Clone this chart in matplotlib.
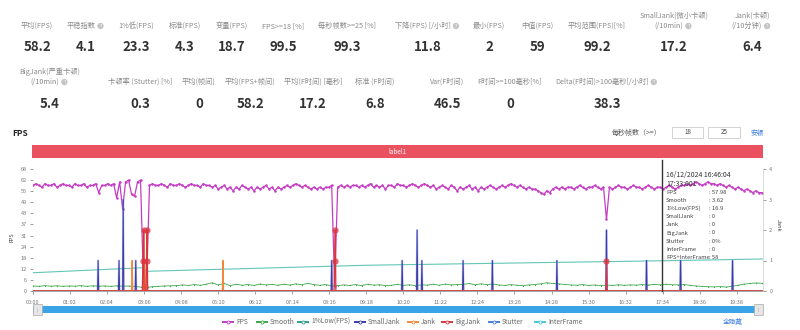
import numpy as np
import matplotlib.pyplot as plt
from matplotlib.patches import Rectangle
from matplotlib.lines import Line2D

plt.rcParams['font.family'] = ['Noto Sans CJK SC', 'DejaVu Sans']

# ---- summary numbers ----
row1_labels = ['平均(FPS)', '平稳指数', '1%低(FPS)', '标准(FPS)', '变量(FPS)', 'FPS>=18 [%]',
               '每秒帧数>=25 [%]', '下降(FPS) [/小时]', '最小(FPS)', '中值(FPS)', '平均范围(FPS)[%]',
               'SmallJank(微小卡顿)\n(/10min)', 'Jank(卡顿)\n(/10分钟)']
row1_values = ['58.2', '4.1', '23.3', '4.3', '18.7', '99.5', '99.3', '11.8', '2', '59', '99.2', '17.2', '6.4']
row2_labels = ['BigJank(严重卡顿)\n(/10min)', '卡顿率 (Stutter) [%]', '平均(帧间)', '平均(FPS+帧间)',
               '平均(F时间) [毫秒]', '标准 (F时间)', 'Var(F时间)', 'F时间>=100毫秒[%]',
               'Delta(F时间)>100毫秒[/小时]']
row2_values = ['5.4', '0.3', '0', '58.2', '17.2', '6.8', '46.5', '0', '38.3']

# ---- FPS, one value every 5 s (one row per minute) ----
fps = [
    59, 60, 59, 58, 60, 59, 59, 60, 58, 59, 60, 59,
    59, 58, 60, 59, 59, 60, 58, 59, 59, 60, 55, 59,
    59, 60, 59, 60, 52, 61, 46, 61, 62, 54, 53, 61,
    62, 4, 2, 59, 60, 59, 59, 60, 59, 58, 60, 59,
    59, 60, 59, 58, 59, 60, 59, 59, 58, 60, 59, 59,
    58, 59, 57, 58, 59, 57, 58, 56, 58, 57, 59, 58,
    57, 58, 56, 58, 57, 58, 59, 57, 58, 56, 58, 57,
    58, 59, 58, 59, 60, 59, 58, 59, 58, 57, 58, 57,
    58, 57, 58, 58, 59, 3, 58, 59, 58, 59, 58, 59,
    59, 58, 59, 58, 59, 60, 58, 59, 58, 59, 57, 59,
    59, 58, 60, 59, 59, 58, 59, 60, 59, 58, 59, 60,
    59, 58, 59, 57, 58, 59, 58, 57, 59, 58, 56, 58,
    57, 58, 59, 57, 58, 56, 58, 57, 58, 59, 58, 57,
    58, 59, 58, 59, 60, 59, 58, 59, 58, 57, 58, 57,
    57, 56, 55, 54, 56, 55, 57, 58, 57, 58, 57, 58,
    58, 57, 58, 59, 58, 57, 58, 58, 59, 58, 57, 58,
    40, 58, 57, 58, 59, 58, 58, 57, 58, 59, 58, 58,
    57, 58, 59, 58, 57, 58, 58, 57, 58, 59, 58, 57,
    58, 59, 59, 60, 59, 60, 61, 60, 59, 60, 61, 60,
    60, 59, 60, 59, 58, 59, 58, 57, 58, 57, 56, 57,
    56, 55, 56, 55, 55,
]

# ---- Smooth, one value every 10 s ----
smooth = [
    2.8, 2.6, 3.0, 2.7, 2.9, 2.6,
    2.8, 2.7, 3.0, 2.6, 2.9, 2.7,
    2.8, 2.6, 2.9, 2.7, 2.8, 2.6,
    2.2, 2.0, 2.4, 2.6, 2.8, 2.9,
    3.0, 3.4, 3.1, 3.6, 3.2, 3.8,
    4.6, 3.4, 4.2, 3.0, 3.8, 3.2,
    3.6, 3.1, 3.9, 3.4, 3.7, 3.2,
    3.8, 3.3, 4.0, 3.5, 4.3, 3.6,
    3.2, 3.6, 2.8, 3.0, 3.4, 3.1,
    3.6, 3.0, 3.8, 3.3, 3.5, 3.0,
    3.2, 3.7, 3.1, 3.5, 3.0, 3.4,
    3.3, 3.8, 3.2, 3.9, 3.4, 3.6,
    3.7, 4.2, 3.5, 4.0, 3.6, 3.9,
    3.4, 3.1, 3.6, 3.2, 3.0, 3.4,
    3.6, 4.0, 4.6, 4.2, 4.0, 3.7,
    3.4, 3.2, 3.6, 3.1, 3.4, 3.0,
    3.3, 3.1, 3.5, 3.2, 3.4, 3.3,
    3.6, 3.3, 3.7, 3.4, 3.8, 3.5,
    3.4, 3.6, 3.2, 2.8, 2.6, 2.4,
    2.3, 2.5, 2.2, 2.6, 3.2, 3.8,
    4.2, 4.5, 4.3,
]

# ---- 1%Low(FPS) ----
low_t = [0, 183, 190, 560, 1053, 1222]
low_v = [10.2, 13.0, 11.0, 14.4, 16.9, 17.9]

# ---- jank events (seconds, count) ----
smalljank_t = [109, 144, 151, 172, 500, 618, 643, 651, 720, 769, 877, 960, 1027, 1084, 1171]
smalljank_v = [1, 1, 3, 1, 1, 1, 2, 1, 1, 1, 1, 2, 1, 1, 1]
jank_t = [166, 186, 190, 318]
jank_v = [1, 2, 1, 1]
bigjank_t = [184, 185, 190, 191, 505, 506, 960]
bigjank_v = [1, 2, 1, 2, 1, 2, 1]

tooltip_names = ['FPS', 'Smooth', '1%Low(FPS)', 'SmallJank', 'Jank', 'BigJank', 'Stutter', 'InterFrame', 'FPS+InterFrame']
tooltip_vals = [': 57.98', ': 3.62', ': 16.9', ': 0', ': 0', ': 0', ': 0%', ': 0', ': 58']

legend_names = ['FPS', 'Smooth', '1%Low(FPS)', 'SmallJank', 'Jank', 'BigJank', 'Stutter', 'InterFrame']
legend_colors = ['#c43cc4', '#3da84a', '#2f9e8f', '#3b3ba6', '#f0883a', '#d93440', '#4c7fd8', '#44c8d4']

XMAX = 1222
CURSOR = 1053

W, H = 800, 330
fig = plt.figure(figsize=(8, 3.3), dpi=100)


def fx(px):
    return px / W


def fy(py):
    return 1 - py / H


def spike_series(times, vals):
    xs, ys = [0], [0]
    for i, (t, v) in enumerate(zip(times, vals)):
        if i == 0 or times[i - 1] != t - 1:
            xs.append(t - 1); ys.append(0)
        xs.append(t); ys.append(v)
        if i == len(times) - 1 or times[i + 1] != t + 1:
            xs.append(t + 1); ys.append(0)
    xs.append(XMAX); ys.append(0)
    return xs, ys


def stat_label(x, y, text, help_icon=False):
    lines = text.split('\n')
    if len(lines) == 2:
        fig.text(fx(x), fy(y - 10), lines[0], ha='center', va='center', fontsize=5.2, color='#8a8a8a')
    last = lines[-1]
    shift = -5 if help_icon else 0
    t = fig.text(fx(x + shift), fy(y), last, ha='center', va='center', fontsize=5.2, color='#8a8a8a')
    if help_icon:
        fig.canvas.draw()
        bb = t.get_window_extent()
        fig.text(bb.x1 / fig.dpi / fig.get_figwidth() + fx(5), fy(y), '?', ha='center', va='center',
                 fontsize=3.2, color='white', bbox=dict(boxstyle='circle,pad=0.15', fc='#c4c4c4', ec='none'))


# ---- stats rows ----
row1_x = [37, 86, 136, 185, 232, 283, 347, 428, 489, 537, 597, 674, 752]
row2_x = [50, 140, 199, 250, 313, 375, 447, 510, 607]
row1_help = [1, 7, 11, 12]
row2_help = [0, 8]
for i, (lab, val, x) in enumerate(zip(row1_labels, row1_values, row1_x)):
    stat_label(x, 26, lab, i in row1_help)
    fig.text(fx(x), fy(47), val, ha='center', va='center', fontsize=9.5, color='#333333', fontweight='bold')
for i, (lab, val, x) in enumerate(zip(row2_labels, row2_values, row2_x)):
    stat_label(x, 82, lab, i in row2_help)
    fig.text(fx(x), fy(104), val, ha='center', va='center', fontsize=9.5, color='#333333', fontweight='bold')

# ---- chart header ----
fig.text(fx(12), fy(134), 'FPS', ha='left', va='center', fontsize=6, fontweight='bold', color='#222222')
fig.text(fx(662), fy(133), '每秒帧数（>=）', ha='right', va='center', fontsize=5, color='#555555')
for (x0, x1), s in zip([(672, 703), (708, 740)], ['18', '25']):
    fig.add_artist(Rectangle((fx(x0), fy(138)), fx(x1) - fx(x0), (138 - 127) / H,
                             transform=fig.transFigure, fc='white', ec='#cccccc', lw=0.6))
    fig.text(fx((x0 + x1) / 2), fy(132.5), s, ha='center', va='center', fontsize=4.5, color='#444444')
fig.text(fx(757), fy(132.5), '安顿', ha='center', va='center', fontsize=4.8, color='#3a7be0')

fig.add_artist(Rectangle((fx(32), fy(158)), fx(763) - fx(32), (158 - 145) / H,
                         transform=fig.transFigure, fc='#e9525e', ec='none'))
fig.text(fx(397), fy(151.5), 'label1', ha='center', va='center', fontsize=4.5, color='white')

# ---- main plot ----
ax = fig.add_axes([fx(33), fy(291), fx(763) - fx(33), fy(169) - fy(291)])
ax2 = ax.twinx()
ax.set_xlim(0, XMAX)
ax.set_ylim(0, 68.2)
ax2.set_ylim(0, 4)

fps_t = np.arange(len(fps)) * 5
smooth_t = np.arange(len(smooth)) * 10
ax.plot(fps_t, fps, color=legend_colors[0], lw=0.9, marker='o', ms=1.8, mew=0)
ax.plot(smooth_t, smooth, color=legend_colors[1], lw=0.6, marker='o', ms=0.9, mew=0)
ax.plot(low_t, low_v, color='#62c6b6', lw=0.8)

ax2.plot([0, XMAX], [0, 0], color=legend_colors[7], lw=0.8)
ax2.plot([0, XMAX], [0, 0], color=legend_colors[6], lw=0.8)
sx, sy = spike_series(smalljank_t, smalljank_v)
ax2.plot(sx, sy, color='#7a8ce8', lw=1.4, alpha=0.5)
ax2.plot(sx, sy, color=legend_colors[3], lw=0.7)
jx, jy = spike_series(jank_t, jank_v)
ax2.plot(jx, jy, color=legend_colors[4], lw=0.9)
bx, by = spike_series(bigjank_t, bigjank_v)
ax2.plot(bx, by, color=legend_colors[5], lw=0.9)
ax2.plot(bigjank_t, bigjank_v, 'o', color=legend_colors[5], ms=4.5, alpha=0.75, mew=0)

xt = np.arange(0, 1179, 62)
ax.set_xticks(xt)
ax.set_xticklabels([f'{t // 60:02d}:{t % 60:02d}' for t in xt])
yt = np.arange(12) * 6.2
ax.set_yticks(yt)
ax.set_yticklabels([str(int(v + 1e-9)) for v in yt])
ax2.set_yticks([0, 1, 2, 3, 4])

for a in (ax, ax2):
    a.tick_params(labelsize=4, colors='#777777', length=2.5, width=0.5, pad=2)
    for s in a.spines.values():
        s.set_visible(False)
ax.tick_params(axis='x', pad=4)
ax.spines['bottom'].set_visible(True)
ax.spines['bottom'].set_color('#999999')
ax.spines['bottom'].set_linewidth(0.6)
ax2.spines['right'].set_visible(True)
ax2.spines['right'].set_color('#cccccc')
ax2.spines['right'].set_linewidth(0.5)

fig.text(fx(12), fy(237), 'FPS', rotation=90, ha='center', va='center', fontsize=4, color='#444444')
fig.text(fx(778), fy(225), 'Jank', rotation=-90, ha='center', va='center', fontsize=4, color='#444444')

# cursor and tooltip
ax2.axvline(CURSOR, ymin=0, ymax=(291 - 160) / 122, color='#333333', lw=1.0, clip_on=False)
fig.text(fx(666), fy(175.5), '16/12/2024 16:46:04', ha='left', va='center', fontsize=5, color='#333333')
fig.text(fx(666), fy(184.5), '17:33:001', ha='left', va='center', fontsize=5, color='#333333')
for i, (n, v) in enumerate(zip(tooltip_names, tooltip_vals)):
    y = 192.5 + i * 8.1
    fig.text(fx(666), fy(y), n, ha='left', va='center', fontsize=4.2, color='#444444')
    fig.text(fx(709), fy(y), v, ha='left', va='center', fontsize=4.2, color='#444444')

# ---- zoom slider ----
fig.add_artist(Rectangle((fx(33), fy(313)), fx(763) - fx(33), 7 / H,
                         transform=fig.transFigure, fc='#3ba4e6', ec='none'))
for x0 in (33, 754):
    fig.add_artist(Rectangle((fx(x0), fy(315)), 9 / W, 11 / H, transform=fig.transFigure,
                             fc='#e6e6e6', ec='#aaaaaa', lw=0.5))
    fig.text(fx(x0 + 4.5), fy(309.5), '||', ha='center', va='center', fontsize=3, color='#888888')

# ---- legend ----
leg_x = [228, 262, 303, 360, 413, 447, 494, 540]
for n, c, x in zip(legend_names, legend_colors, leg_x):
    fig.add_artist(Line2D([fx(x - 5), fx(x + 5)], [fy(322), fy(322)], transform=fig.transFigure,
                          color=c, lw=1.4))
    fig.add_artist(Line2D([fx(x)], [fy(322)], transform=fig.transFigure, marker='o', ms=2.2,
                          color=c, mfc='white', mew=0.6))
    fig.text(fx(x + 8), fy(322), n, ha='left', va='center', fontsize=4.8, color='#666666')
fig.text(fx(733), fy(322), '全隐藏', ha='center', va='center', fontsize=4.8, color='#3a7be0')

fig.savefig('out.png', dpi=100, facecolor='white')
